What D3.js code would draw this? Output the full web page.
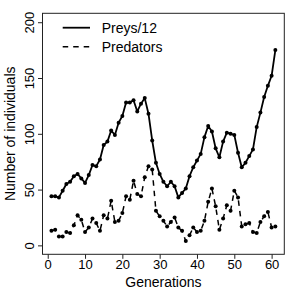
<!DOCTYPE html>
<html>
<head>
<meta charset="utf-8">
<script src="https://cdn.jsdelivr.net/npm/d3@7"></script>
<style>
  html, body { margin: 0; padding: 0; background: #fff; }
  svg { display: block; }
  text { font-family: "Liberation Sans", Arial, Helvetica, sans-serif; fill: #000; }
</style>
</head>
<body>
<svg id="chart" width="297" height="297"></svg>
<script>
const generations = d3.range(1, 62);
const preys = [44, 44, 43, 49, 55, 57, 62, 64, 60, 56,
               63, 72, 71, 77, 90, 93, 103, 99, 110, 116,
               128, 128, 130, 120, 127, 132, 118, 94, 74, 64,
               57, 53, 57, 53, 43, 47, 51, 62, 70, 76,
               82, 97, 107, 102, 87, 79, 93, 101, 100, 99,
               83, 70, 74, 80, 86, 106, 119, 133, 143, 152, 175];
const predators = [13, 14, 8, 8, 12, 11, 18, 27, 23, 12,
                   16, 24, 20, 13, 27, 24, 40, 21, 22, 29,
                   44, 41, 58, 46, 44, 61, 71, 68, 31, 26,
                   22, 17, 21, 25, 16, 13, 4, 9, 16, 12,
                   13, 22, 39, 51, 35, 14, 24, 36, 31, 49,
                   43, 17, 19, 20, 12, 11, 21, 26, 30, 16, 17];
const xTicks = [0, 10, 20, 30, 40, 50, 60];
const yTicks = [0, 50, 100, 150, 200];
const seriesNames = ["Preys/12", "Predators"];

const svg = d3.select("#chart");
const pLeft = 42.5, pRight = 284.3, pTop = 13.3, pBottom = 254.3;

const x = d3.scaleLinear().domain([-1.4, 63.4]).range([pLeft, pRight]);
const y = d3.scaleLinear().domain([-8, 208]).range([pBottom, pTop]);

// box
svg.append("rect")
  .attr("x", pLeft).attr("y", pTop)
  .attr("width", pRight - pLeft).attr("height", pBottom - pTop)
  .attr("fill", "none").attr("stroke", "#222").attr("stroke-width", 1);

// x axis
const xAxis = d3.axisBottom(x).tickValues(xTicks).tickSize(4.5).tickSizeOuter(0).tickFormat(d3.format("d"));
const gx = svg.append("g").attr("transform", `translate(0,${pBottom})`).call(xAxis);
gx.select(".domain").remove();
gx.selectAll(".tick line").attr("stroke", "#222");
gx.selectAll(".tick text")
  .attr("y", 15).attr("dy", null)
  .style("font-size", "13px")
  .style("font-family", "'Liberation Sans', Arial, sans-serif")
  .attr("fill", "#000");

// y axis
const yAxis = d3.axisLeft(y).tickValues(yTicks).tickSize(4.5).tickSizeOuter(0).tickFormat(d3.format("d"));
const gy = svg.append("g").attr("transform", `translate(${pLeft},0)`).call(yAxis);
gy.select(".domain").remove();
gy.selectAll(".tick line").attr("stroke", "#222");
gy.selectAll(".tick text")
  .attr("x", null).attr("dy", null)
  .attr("transform", "translate(-8.2,0) rotate(-90)")
  .attr("text-anchor", "middle")
  .attr("y", 0)
  .style("font-size", "13px")
  .style("font-family", "'Liberation Sans', Arial, sans-serif")
  .attr("fill", "#000");

// axis titles
svg.append("text")
  .attr("x", (pLeft + pRight) / 2).attr("y", 287)
  .attr("text-anchor", "middle")
  .style("font-size", "14px")
  .text("Generations");
svg.append("text")
  .attr("transform", `translate(15,${(pTop + pBottom) / 2}) rotate(-90)`)
  .attr("text-anchor", "middle")
  .style("font-size", "14px")
  .text("Number of individuals");

// lines
const line = d3.line().x((d, i) => x(generations[i])).y(d => y(d));

svg.append("path").datum(preys)
  .attr("d", line).attr("fill", "none")
  .attr("stroke", "#000").attr("stroke-width", 1.8)
  .attr("stroke-linejoin", "round");
svg.append("g").selectAll("circle").data(preys).join("circle")
  .attr("cx", (d, i) => x(generations[i])).attr("cy", d => y(d))
  .attr("r", 2).attr("fill", "#000");

svg.append("path").datum(predators)
  .attr("d", line).attr("fill", "none")
  .attr("stroke", "#000").attr("stroke-width", 1.5)
  .attr("stroke-dasharray", "5.5,5");
svg.append("g").selectAll("circle").data(predators).join("circle")
  .attr("cx", (d, i) => x(generations[i])).attr("cy", d => y(d))
  .attr("r", 2).attr("fill", "#000");

// legend
const legendY = [27.7, 46.7];
const leg = svg.append("g");
leg.append("line").attr("x1", 62.7).attr("x2", 90).attr("y1", legendY[0]).attr("y2", legendY[0])
  .attr("stroke", "#000").attr("stroke-width", 1.8);
leg.append("line").attr("x1", 62.7).attr("x2", 90).attr("y1", legendY[1]).attr("y2", legendY[1])
  .attr("stroke", "#000").attr("stroke-width", 1.5).attr("stroke-dasharray", "5.5,5");
seriesNames.forEach((n, i) => {
  leg.append("text").attr("x", 101.7).attr("y", legendY[i] + 5)
    .style("font-size", "14px").text(n);
});
</script>
</body>
</html>
